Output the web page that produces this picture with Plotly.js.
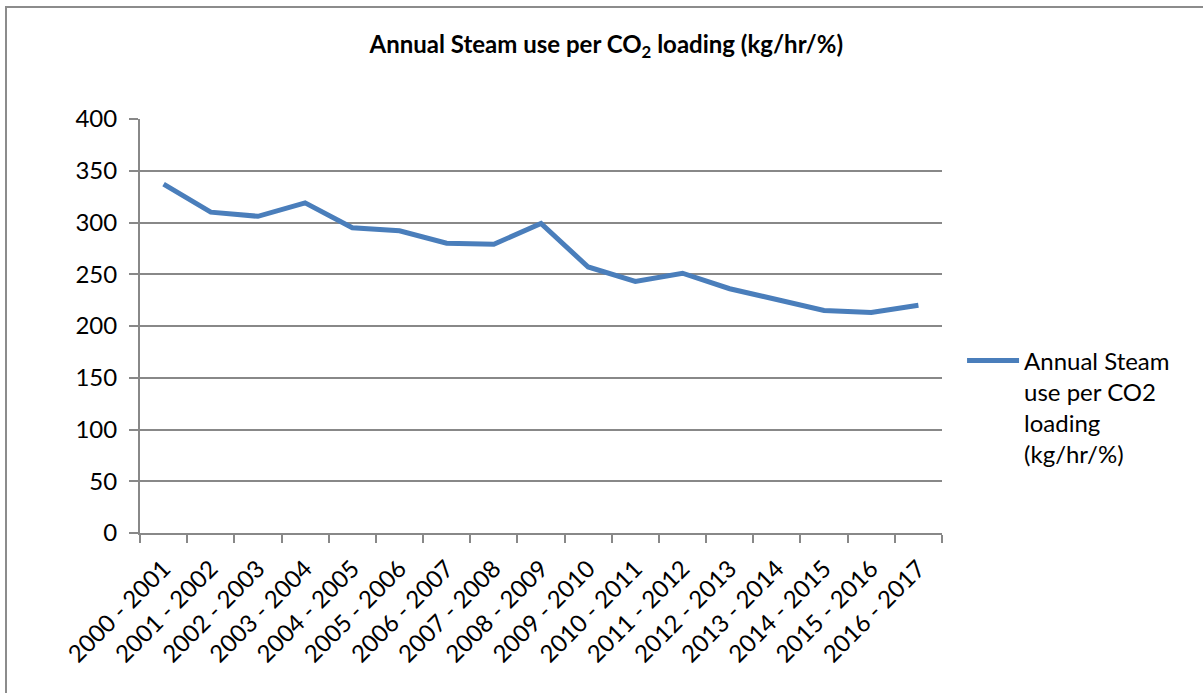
<!DOCTYPE html>
<html>
<head>
<meta charset="utf-8">
<script src="https://cdn.plot.ly/plotly-3.0.1.min.js"></script>
<style>
  html, body { margin: 0; padding: 0; background: #fff; }
  #wrap { position: relative; width: 1203px; height: 693px; overflow: hidden; }
  #chart { width: 1203px; height: 693px; }
  #frame { position: absolute; left: 5px; top: 6px; width: 1210px; height: 700px;
           border: 2px solid #8c8c8c; box-sizing: border-box; pointer-events: none; }
</style>
</head>
<body>
<div id="wrap">
  <div id="chart"></div>
  <div id="frame"></div>
</div>
<script>
const categories = [
  "2000 - 2001", "2001 - 2002", "2002 - 2003", "2003 - 2004", "2004 - 2005",
  "2005 - 2006", "2006 - 2007", "2007 - 2008", "2008 - 2009", "2009 - 2010",
  "2010 - 2011", "2011 - 2012", "2012 - 2013", "2013 - 2014", "2014 - 2015",
  "2015 - 2016", "2016 - 2017"
];
const steamUse = [337, 310, 306, 319, 295, 292, 280, 279, 299, 257, 243, 251, 236, 226, 215, 213, 220];
const seriesName = "Annual Steam<br>use per CO2<br>loading<br>(kg/hr/%)";
const yTicks = [0, 50, 100, 150, 200, 250, 300, 350, 400];

const FONT = "Lato, 'Open Sans', sans-serif";

Plotly.newPlot("chart", [{
  type: "scatter",
  mode: "lines",
  x: categories,
  y: steamUse,
  name: seriesName,
  line: { color: "#4a7ebb", width: 5 },
  showlegend: true
}], {
  width: 1203,
  height: 693,
  margin: { l: 140, r: 261, t: 119, b: 160 },
  paper_bgcolor: "#ffffff",
  plot_bgcolor: "#ffffff",
  title: {
    text: "<b>Annual Steam use per CO<sub>2</sub> loading (kg/hr/%)</b>",
    font: { family: FONT, size: 24, color: "#000" },
    x: 0.504, xanchor: "center", xref: "container",
    y: 0.935, yanchor: "middle", yref: "container"
  },
  xaxis: {
    type: "category",
    tickmode: "array",
    tickvals: categories,
    ticktext: categories,
    tickangle: -45,
    tickson: "boundaries",
    ticks: "outside",
    ticklen: 8,
    tickwidth: 2,
    tickcolor: "#888888",
    showline: true,
    linecolor: "#888888",
    linewidth: 2,
    showgrid: false,
    zeroline: false,
    tickfont: { family: FONT, size: 24, color: "#000" },
    ticklabelstandoff: 10,
    range: [-0.5, categories.length - 0.5]
  },
  yaxis: {
    range: [0, 400],
    tickmode: "array",
    tickvals: yTicks,
    ticktext: yTicks.map(String),
    ticks: "outside",
    ticklen: 9,
    tickwidth: 2,
    tickcolor: "#888888",
    showline: true,
    linecolor: "#888888",
    linewidth: 2,
    showgrid: true,
    gridcolor: "#888888",
    gridwidth: 2,
    zeroline: false,
    tickfont: { family: FONT, size: 24, color: "#000" },
    ticklabelstandoff: 7
  },
  legend: {
    x: 1.025, xanchor: "left",
    y: 0.47, yanchor: "top",
    valign: "top",
    itemwidth: 52,
    font: { family: FONT, size: 24, color: "#000" },
    bgcolor: "rgba(0,0,0,0)",
    tracegroupgap: 0
  },
  showlegend: true
}, { displayModeBar: false, staticPlot: true });
</script>
</body>
</html>
